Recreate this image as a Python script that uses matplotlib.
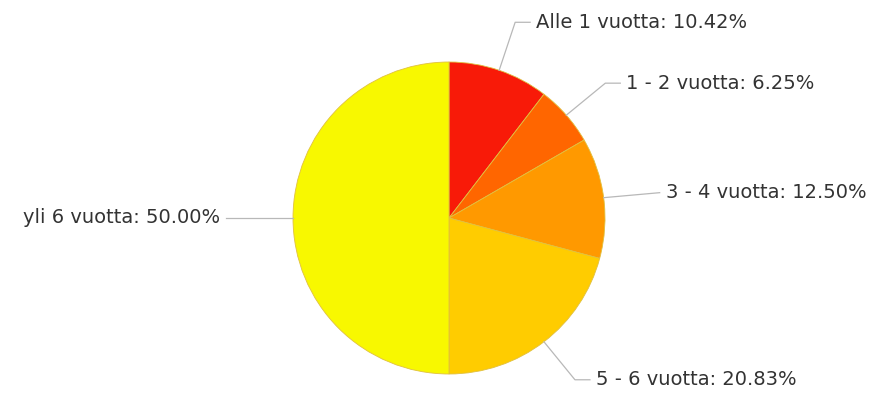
import numpy as np
import matplotlib.pyplot as plt

labels = ["Alle 1 vuotta", "1 - 2 vuotta", "3 - 4 vuotta", "5 - 6 vuotta", "yli 6 vuotta"]
shares = [10.42, 6.25, 12.50, 20.83, 50.00]
colors = ["#f81a08", "#ff6600", "#ff9900", "#ffcc00", "#f8f800"]

W, H = 889, 397
fig = plt.figure(figsize=(W / 100, H / 100), dpi=100)
ax = fig.add_axes([0, 0, 1, 1])

cx, cy, r = 449, H - 218, 156
wedges, _ = ax.pie(shares, colors=colors, startangle=90, counterclock=False,
                   center=(cx, cy), radius=r, frame=True,
                   wedgeprops=dict(linewidth=0.6, edgecolor="#e0c040"))
ax.set_xlim(0, W)
ax.set_ylim(0, H)
ax.set_aspect("equal")
ax.axis("off")

# connector elbows (dx, dy from rim point) and horizontal run length
elbows = [(16, 48, 15), (39, 32, 15), (56, 5, 0), (31, -38, 15), (-67, 0, 0)]

for w, lab, val, (ex, ey, run) in zip(wedges, labels, shares, elbows):
    ang = np.deg2rad((w.theta1 + w.theta2) / 2)
    px, py = cx + r * np.cos(ang), cy + r * np.sin(ang)
    bx, by = px + ex, py + ey
    side = 1 if np.cos(ang) >= -0.01 else -1
    tx = bx + side * run
    ax.plot([px, bx, tx], [py, by, by], color="#b8b8b8", lw=0.9)
    ax.text(tx + side * 6, by, f"{lab}: {val:.2f}%", fontsize=14, color="#333333",
            ha="left" if side > 0 else "right", va="center", family="DejaVu Sans")

fig.savefig("out.png", dpi=100)
